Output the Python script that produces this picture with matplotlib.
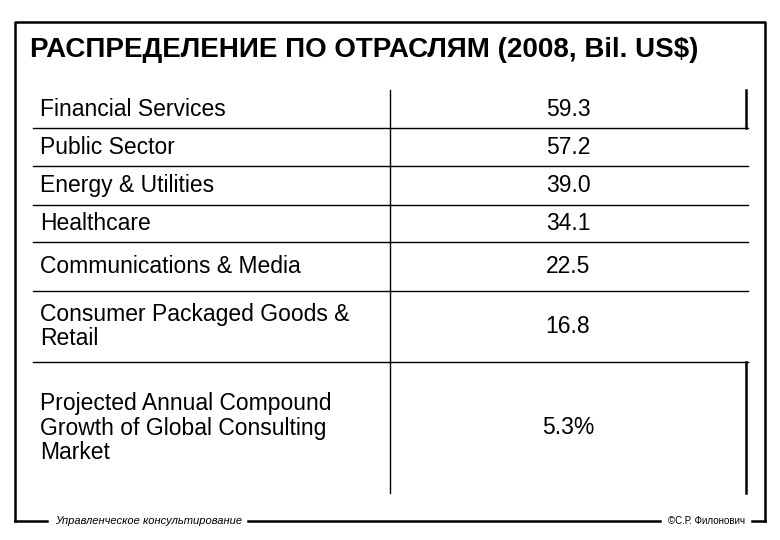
import matplotlib
matplotlib.use("Agg")
import matplotlib.pyplot as plt

title = "РАСПРЕДЕЛЕНИЕ ПО ОТРАСЛЯМ (2008, Bil. US$)"
categories = ["Financial Services", "Public Sector", "Energy & Utilities", "Healthcare",
              "Communications & Media", "Consumer Packaged Goods &\nRetail",
              "Projected Annual Compound\nGrowth of Global Consulting\nMarket"]
values = ["59.3", "57.2", "39.0", "34.1", "22.5", "16.8", "5.3%"]
footer_left = "Управленческое консультирование"
footer_right = "©С.Р. Филонович"

row_edges = [90, 128, 166, 205, 242, 291, 362, 493]

fig = plt.figure(figsize=(7.8, 5.4), dpi=100)
ax = fig.add_axes([0, 0, 1, 1])
ax.set_xlim(0, 780); ax.set_ylim(540, 0); ax.axis("off")
plt.rcParams['font.family'] = ['Liberation Sans', 'DejaVu Sans']

k = dict(color="black", lw=1.8)
ax.plot([15, 15, 765, 765], [521, 22, 22, 521], **k)
ax.plot([15, 47], [521, 521], **k)
ax.plot([248, 660], [521, 521], **k)
ax.plot([752, 765], [521, 521], **k)
ax.text(55, 521, footer_left, fontsize=8, style="italic", va="center", ha="left")
ax.text(745, 521, footer_right, fontsize=7, va="center", ha="right")

ax.text(30, 50, title, fontsize=20, fontweight="bold", va="center", ha="left")

for y in row_edges[1:-1]:
    ax.plot([33, 748], [y, y], color="black", lw=1)
ax.plot([390, 390], [row_edges[0], row_edges[-1]], color="black", lw=1)
ax.plot([746, 746], [row_edges[0], row_edges[1]], color="black", lw=1.8)
ax.plot([746, 746], [row_edges[6], row_edges[7]], color="black", lw=1.8)

for i, (c, v) in enumerate(zip(categories, values)):
    yc = (row_edges[i] + row_edges[i + 1]) / 2
    if i == 6:
        yc = 428
    ax.text(40, yc, c, fontsize=16.5, va="center", ha="left", linespacing=1.1)
    ax.text(568, yc, v, fontsize=16.5, va="center", ha="center")

fig.savefig("out.png", dpi=100)
